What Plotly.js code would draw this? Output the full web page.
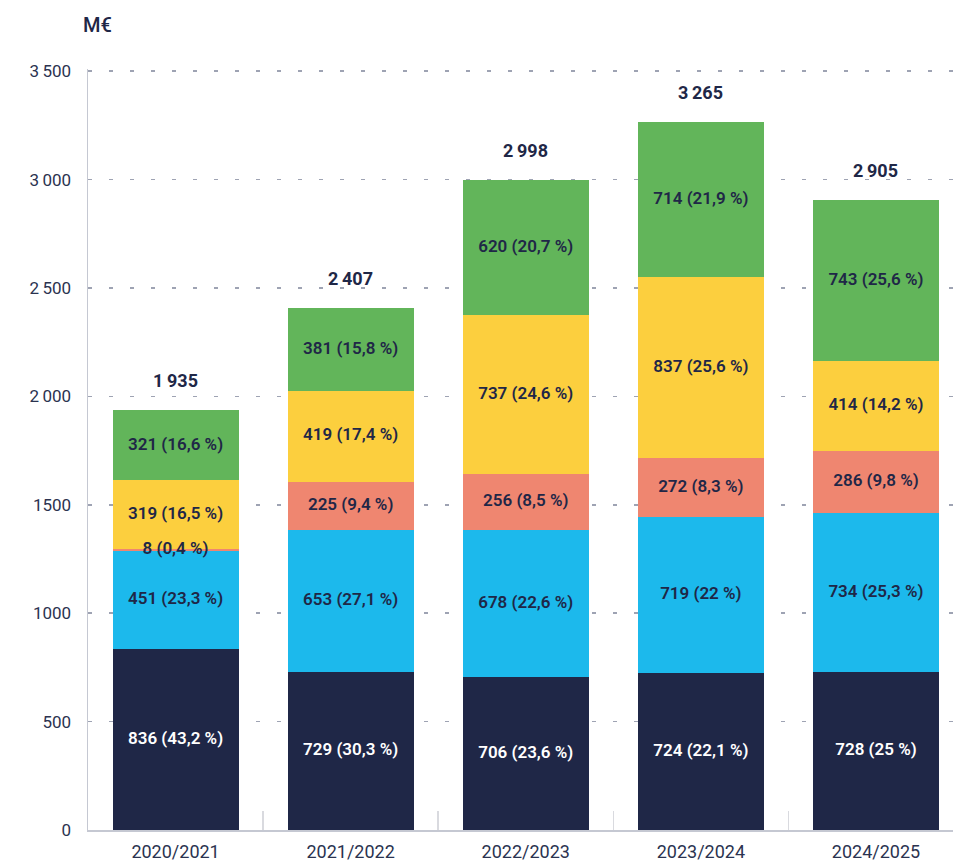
<!DOCTYPE html>
<html>
<head>
<meta charset="utf-8">
<script src="https://cdn.plot.ly/plotly-3.0.1.min.js"></script>
<style>html,body{margin:0;padding:0;background:#fff;}#chart{width:953px;height:865px;}</style>
</head>
<body>
<div id="chart"></div>
<script>
const categories = ["2020/2021", "2021/2022", "2022/2023", "2023/2024", "2024/2025"];
const navyValues   = [836, 729, 706, 724, 728];
const navyPct      = ["43,2", "30,3", "23,6", "22,1", "25"];
const blueValues   = [451, 653, 678, 719, 734];
const bluePct      = ["23,3", "27,1", "22,6", "22", "25,3"];
const salmonValues = [8, 225, 256, 272, 286];
const salmonPct    = ["0,4", "9,4", "8,5", "8,3", "9,8"];
const yellowValues = [319, 419, 737, 837, 414];
const yellowPct    = ["16,5", "17,4", "24,6", "25,6", "14,2"];
const greenValues  = [321, 381, 620, 714, 743];
const greenPct     = ["16,6", "15,8", "20,7", "21,9", "25,6"];
const totals       = [1935, 2407, 2998, 3265, 2905];
const totalLabels  = ["1\u2009935", "2\u2009407", "2\u2009998", "3\u2009265", "2\u2009905"];
const yTickVals    = [0, 500, 1000, 1500, 2000, 2500, 3000, 3500];
const yTickText    = ["0", "500", "1000", "1500", "2\u2009000", "2\u2009500", "3\u2009000", "3\u2009500"];

const FONT = "Roboto, 'Open Sans', sans-serif";
const DARK = "#1f2747";

const series = [
  {values: navyValues,   pct: navyPct,   color: "#1f2747", text: "#ffffff"},
  {values: blueValues,   pct: bluePct,   color: "#1cb9ec", text: DARK},
  {values: salmonValues, pct: salmonPct, color: "#ef8670", text: DARK},
  {values: yellowValues, pct: yellowPct, color: "#fccf3e", text: DARK},
  {values: greenValues,  pct: greenPct,  color: "#62b55a", text: DARK}
];

const data = [];
const base = categories.map(() => 0);
const labelTraces = [];
series.forEach(s => {
  data.push({
    type: "bar",
    x: categories,
    y: s.values,
    marker: {color: s.color, line: {width: 0}},
    hoverinfo: "skip"
  });
  const mids = s.values.map((v, i) => base[i] + v / 2);
  s.values.forEach((v, i) => { base[i] += v; });
  labelTraces.push({
    type: "scatter",
    mode: "text",
    x: categories,
    y: mids,
    text: s.values.map((v, i) => v + " (" + s.pct[i] + " %)"),
    textposition: "middle center",
    textfont: {family: FONT, size: 17, color: s.text, weight: 600},
    cliponaxis: false,
    hoverinfo: "skip"
  });
});
labelTraces.forEach(t => data.push(t));

const annotations = categories.map((c, i) => ({
  x: c, y: totals[i], xref: "x", yref: "y",
  text: totalLabels[i], showarrow: false, yshift: 30,
  font: {family: FONT, size: 18, color: DARK, weight: 700}
}));

const layout = {
  width: 953, height: 865,
  margin: {l: 88, r: 0, t: 69, b: 35},
  paper_bgcolor: "#ffffff", plot_bgcolor: "#ffffff",
  barmode: "stack",
  bargap: 0.28,
  showlegend: false,
  title: {
    text: "M€", xref: "container", yref: "container",
    x: 0.087, xanchor: "left", y: 0.971, yanchor: "middle",
    font: {family: FONT, size: 20, color: DARK, weight: 500}
  },
  xaxis: {
    type: "category",
    range: [-0.5, 4.44],
    showline: true, linecolor: "#c5c8d2", linewidth: 1.5,
    ticks: "inside", ticklen: 19, tickwidth: 1.5, tickcolor: "#d9dadf",
    tickson: "boundaries",
    showgrid: false, zeroline: false,
    ticklabelstandoff: 5,
    tickfont: {family: FONT, size: 18, color: "#2b3350"},
    automargin: false, fixedrange: true
  },
  yaxis: {
    range: [0, 3510],
    tickvals: yTickVals, ticktext: yTickText,
    showline: true, linecolor: "#c5c8d2", linewidth: 1.5,
    showgrid: true, gridcolor: "#9ea3b3", gridwidth: 1.5, griddash: "4px,17px",
    zeroline: false,
    ticks: "", ticklabelstandoff: 12,
    tickfont: {family: FONT, size: 17, color: "#2b3350"},
    automargin: false, fixedrange: true
  },
  annotations: annotations
};

Plotly.newPlot("chart", data, layout, {displayModeBar: false, staticPlot: true});
</script>
</body>
</html>
